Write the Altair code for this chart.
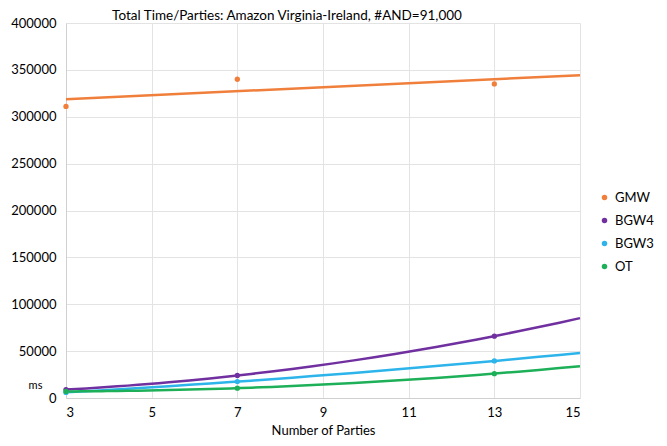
import altair as alt
import pandas as pd

parties = [3, 7, 13]
series_names = ["GMW", "BGW4", "BGW3", "OT"]
gmw = [311000, 340000, 335000]
bgw4 = [9000, 24000, 66000]
bgw3 = [6000, 17500, 39500]
ot = [7000, 10500, 26000]
colors = ["#F07F3C", "#7030A0", "#2DB4EA", "#1DB058"]
x_ticks = [3, 5, 7, 9, 11, 13, 15]

rows = []
for name, vals in zip(series_names, [gmw, bgw4, bgw3, ot]):
    for p, v in zip(parties, vals):
        rows.append({"parties": p, "time": v, "series": name})
df = pd.DataFrame(rows)

FONT = "Lato"

xscale = alt.Scale(domain=[3, 15], nice=False)
yscale = alt.Scale(domain=[0, 400000], nice=False)
color = alt.Color(
    "series:N",
    scale=alt.Scale(domain=series_names, range=colors),
    sort=series_names,
    legend=alt.Legend(
        title=None, orient="none", legendX=532, legendY=168,
        symbolType="circle", symbolSize=30, labelFontSize=13,
        labelFont=FONT, labelColor="black", rowPadding=9, symbolStrokeWidth=0,
    ),
)

base = alt.Chart(df)

points = base.mark_circle(size=28, opacity=1).encode(
    x=alt.X("parties:Q", scale=xscale,
            axis=alt.Axis(values=x_ticks, title="Number of Parties", grid=True,
                          gridColor="#e3e3e3", domainColor="#d0d0d0", ticks=False,
                          labelFontSize=13, labelFont=FONT, labelColor="black",
                          labelPadding=8, titleFont=FONT, titleFontSize=13,
                          titleFontWeight="normal", titleColor="black", titlePadding=5)),
    y=alt.Y("time:Q", scale=yscale,
            axis=alt.Axis(values=list(range(0, 400001, 50000)), title="ms", format="d",
                          grid=True, gridColor="#e3e3e3", domainColor="#d0d0d0", ticks=False,
                          labelFontSize=13, labelFont=FONT, labelColor="black", labelPadding=10,
                          titleFont=FONT, titleFontSize=11, titleFontWeight="normal",
                          titleColor="black", titleAngle=0, titleX=-31, titleY=362,
                          titleAlign="center", titleBaseline="middle")),
    color=color,
)

lin = base.transform_filter(alt.datum.series == "GMW").transform_regression(
    "parties", "time", groupby=["series"], method="linear", extent=[3, 15]
).mark_line(strokeWidth=2.5).encode(
    x=alt.X("parties:Q", scale=xscale), y=alt.Y("time:Q", scale=yscale), color=color
)

poly = base.transform_filter(alt.datum.series != "GMW").transform_regression(
    "parties", "time", groupby=["series"], method="poly", order=2, extent=[3, 15]
).mark_line(strokeWidth=2.5).encode(
    x=alt.X("parties:Q", scale=xscale), y=alt.Y("time:Q", scale=yscale), color=color
)

chart = alt.layer(lin, poly, points).properties(
    width=514, height=375,
    title=alt.TitleParams("Total Time/Parties: Amazon Virginia-Ireland, #AND=91,000",
                          font=FONT, fontSize=13.5, fontWeight="normal", color="black",
                          dx=-36, dy=6, offset=1),
    autosize=alt.AutoSizeParams(type="none"),
    padding={"left": 58, "top": 15, "right": 79, "bottom": 40},
).configure_view(stroke=None)

chart.save("out.html", embed_options={"renderer": "svg", "actions": False})
